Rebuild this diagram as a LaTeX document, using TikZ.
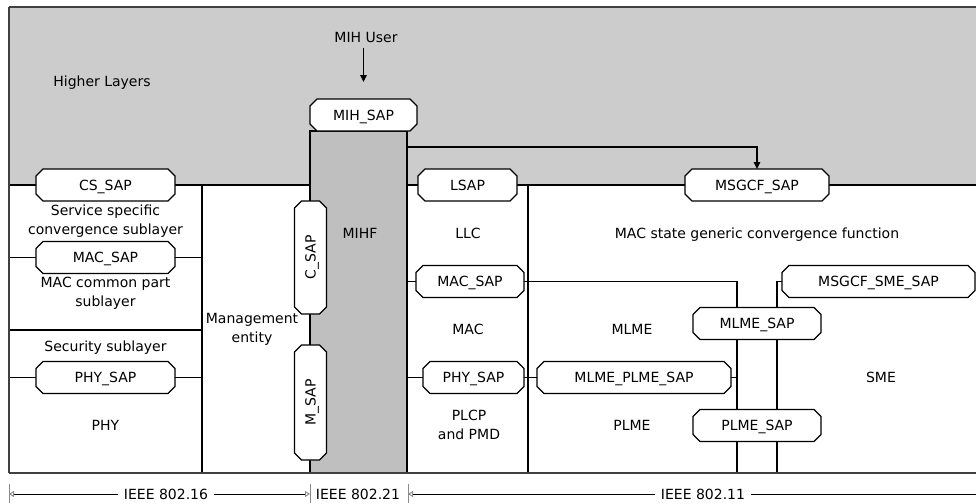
\documentclass[tikz,border=0pt]{standalone}
\usepackage{fontspec}
\setmainfont{DejaVu Sans}
\usetikzlibrary{shapes.misc,arrows.meta}
\definecolor{hlgray}{HTML}{CCCCCC}
\definecolor{mihfgray}{HTML}{BFBFBF}
\definecolor{framegray}{HTML}{404040}
\definecolor{tickgray}{HTML}{8A8A8A}
\pgfdeclarelayer{background}
\pgfsetlayers{background,main}
\begin{document}
\begin{tikzpicture}[x=1pt,y=-1pt,
  every node/.style={font=\fontsize{14}{19}\selectfont, inner sep=0pt, outer sep=0pt},
  lbl/.style={text height=10pt, text depth=0pt},
  mlbl/.style={align=center},
  sapbox/.style={chamfered rectangle, chamfered rectangle xsep=3.5pt,
    chamfered rectangle ysep=3.5pt, draw, fill=white, line width=1.1pt,
    minimum height=32pt, text height=10pt, text depth=0pt},
  ln/.style={line width=1.1pt},
  arr/.style={ln, -{Triangle[length=7pt,width=6.5pt]}},
  border/.style={draw=framegray, line width=2.5pt},
  tickln/.style={draw=tickgray, line width=1pt},
  dimln/.style={line width=0.9pt, -{Triangle[open,length=5pt,width=6pt,color=tickgray]}},
  dimlbl/.style={lbl, inner xsep=6pt}]
\useasboundingbox (0,0) rectangle (976,503);

% MIHF column
\node[draw, fill=mihfgray, line width=1.1pt, minimum width=97pt, minimum height=342pt,
      anchor=north west] (mihfCol) at (310,131) {};

% service access points, IEEE 802.16 side
\node[sapbox, minimum width=139pt] (csSap)   at (105.5,185)   {CS\_SAP};
\node[sapbox, minimum width=139pt] (macSapL) at (105.5,257.5) {MAC\_SAP};
\node[sapbox, minimum width=139pt] (phySapL) at (105.5,377.5) {PHY\_SAP};

% MIHF access points
\node[sapbox, minimum width=107pt] (mihSap) at (363.5,115) {MIH\_SAP};
\node[sapbox, minimum width=113pt, rotate=90] (cSap) at (310.5,257.5) {C\_SAP};
\node[sapbox, minimum width=115pt, rotate=90] (mSap) at (310.5,402.5) {M\_SAP};

% service access points, IEEE 802.11 side
\node[sapbox, minimum width=99pt]  (lSap)     at (467.5,185)   {LSAP};
\node[sapbox, minimum width=144pt] (msgcfSap) at (757,185)     {MSGCF\_SAP};
\node[sapbox, minimum width=108pt] (macSapR)  at (470,281.5)   {MAC\_SAP};
\node[sapbox, minimum width=101pt] (phySapR)  at (473.5,377.5) {PHY\_SAP};
\node[sapbox, minimum width=194pt] (mlmePlme) at (634,377.5)   {MLME\_PLME\_SAP};
\node[sapbox, minimum width=128pt] (mlmeSap)  at (757,323.5)   {MLME\_SAP};
\node[sapbox, minimum width=128pt] (plmeSap)  at (757,425.5)   {PLME\_SAP};
\node[sapbox, minimum width=193pt] (smeSap)   at (878.5,281.5) {MSGCF\_SME\_SAP};

% layer and entity labels
\node[lbl] (higher) at (102,81) {Higher Layers};
\node[lbl] (mihUser) at (366,38) {MIH User};
\node[lbl] (mihf) at (360,233) {MIHF};
\node[lbl] (llc) at (468,233) {LLC};
\node[lbl] (msgcf) at (757,233) {MAC state generic convergence function};
\node[lbl] (mac) at (468,329) {MAC};
\node[lbl] (mlme) at (632,329) {MLME};
\node[lbl] (sme) at (881,377) {SME};
\node[lbl] (plme) at (632,425) {PLME};
\node[lbl] (phy) at (105.5,425) {PHY};
\node[lbl] (sec) at (105.5,346) {Security sublayer};
\node[mlbl] (cs) at (105.5,221) {Service specific\\convergence sublayer};
\node[mlbl] (cps) at (105.5,293) {MAC common part\\sublayer};
\node[mlbl] (mgmt) at (252,329.5) {Management\\entity};
\node[mlbl] (plcp) at (469,424.5) {PLCP\\and PMD};

% helper points for the vertical management lines
\coordinate (v1) at (737,473);
\coordinate (v2) at (777,473);
\coordinate (arrowRow) at (0,147);
\coordinate (mihUserTip) at (363.5,82);

\begin{pgfonlayer}{background}
  \fill[hlgray] (9,7) rectangle (976,185);
  % boundary below the higher layers
  \draw[ln] (9,185) -- (mihfCol.west |- csSap.center);
  \draw[ln] (mihfCol.east |- lSap.center) -- (976,185);
  % column dividers
  \draw[ln] (202,185) -- (202,473);
  \draw[ln] (528,185) -- (528,473);
  % IEEE 802.16 stack
  \draw[ln] (9,257.5) -- (macSapL.west);
  \draw[ln] (macSapL.east) -- (202,257.5);
  \draw[ln] (9,330) -- (202,330);
  \draw[ln] (9,377.5) -- (phySapL.west);
  \draw[ln] (phySapL.east) -- (202,377.5);
  % IEEE 802.11 stack
  \draw[ln] (mihfCol.east |- macSapR.center) -- (macSapR.west);
  \draw[ln] (macSapR.east) -| (v1);
  \draw[ln] (smeSap.west) -| (v2);
  \draw[ln] (mihfCol.east |- phySapR.center) -- (phySapR.west);
  \draw[ln] (phySapR.east) -- (mlmePlme.west);
  \draw[ln] (mlmePlme.east) -- (mlmePlme.east -| v1);
\end{pgfonlayer}

% primitives flow
\draw[arr, shorten <=5pt] (mihUserTip |- mihUser.south) -- (mihUserTip);
\draw[arr] (mihfCol.east |- arrowRow) -| (msgcfSap.north);

% outer frame
\draw[border] (9,7) -- (976,7);
\draw[draw=framegray, line width=1.5pt] (9,7) -- (9,473);
\draw[border] (9,473) -- (976,473);

% scope of each standard
\coordinate (tk0) at (9,494);
\coordinate (tk1) at (310,494);
\coordinate (tk2) at (408,494);
\coordinate (dimEnd) at (976,494);
\node[dimlbl] (d16) at (166,494) {IEEE 802.16};
\node[dimlbl] (d21) at (358,494) {IEEE 802.21};
\node[dimlbl] (d11) at (703,494) {IEEE 802.11};
\foreach \t in {tk0,tk1,tk2}
  \draw[tickln] ([yshift=10pt]\t) -- ([yshift=-9pt]\t);
\draw[dimln] (d16.west) -- (tk0);
\draw[dimln] (d16.east) -- (tk1);
\draw[dimln] (d11.west) -- (tk2);
\draw[line width=0.9pt] (d11.east) -- (dimEnd);
\end{tikzpicture}
\end{document}
